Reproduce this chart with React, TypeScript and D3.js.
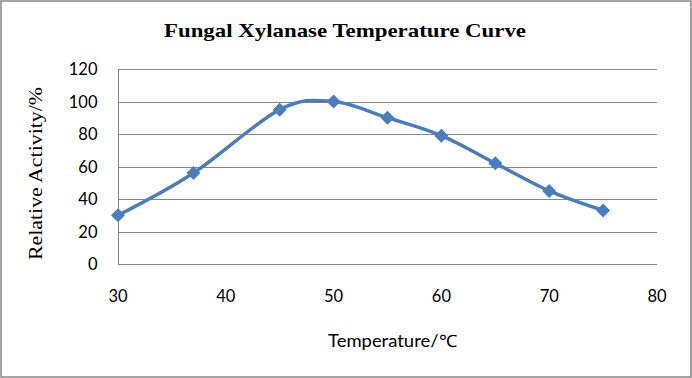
import React, { useEffect } from "react";
import * as d3 from "d3";

const temperatures = [30, 37, 45, 50, 55, 60, 65, 70, 75];
const activities = [30, 56, 95, 100, 90, 79, 62, 45, 33];
const xTicks = [30, 40, 50, 60, 70, 80];
const yTicks = [0, 20, 40, 60, 80, 100, 120];
const title = "Fungal Xylanase Temperature Curve";
const xTitle = "Temperature/℃";
const yTitle = "Relative Activity/%";

const W = 692, H = 378;
const L = 118, R = 657, T = 69, B = 264;
const BLUE = "#4a7ebb";
const GRID = "#868686";
const SANS = "Lato, 'Open Sans', sans-serif";
const SERIF = "'Liberation Serif', 'DejaVu Serif', serif";

export default function App() {
  useEffect(() => {
    document.body.style.margin = "0";
  }, []);
  const x = d3.scaleLinear().domain([30, 80]).range([L, R]);
  const y = d3.scaleLinear().domain([0, 120]).range([B, T]);
  const pts = temperatures.map((t, i) => [x(t), y(activities[i])] as [number, number]);
  const line = d3.line().curve(d3.curveCardinal.tension(0))(pts) || "";
  const d = 7;
  return (
    <svg width={W} height={H} style={{ position: "absolute", left: 0, top: 0, display: "block" }}>
      <rect x={0} y={0} width={W} height={H} fill="#fff" />
      <rect x={1} y={1} width={W - 2} height={H - 2} fill="none" stroke={GRID} strokeWidth={1.5} />
      <text x={164} y={37} textLength={362} lengthAdjust="spacingAndGlyphs" fontFamily={SERIF} fontWeight="bold" fontSize={19.5}>{title}</text>
      {yTicks.map((v) => (
        <g key={v}>
          <line x1={L} x2={R} y1={Math.round(y(v)) + 0.5} y2={Math.round(y(v)) + 0.5} stroke={GRID} strokeWidth={1} />
          <text x={97.5} y={y(v) + 6} textAnchor="end" fontFamily={SANS} fontSize={16.5} fill="#000">{v}</text>
        </g>
      ))}
      <line x1={L + 0.5} x2={L + 0.5} y1={T} y2={B + 1} stroke={GRID} strokeWidth={1} />
      {xTicks.map((v) => (
        <text key={v} x={x(v)} y={302} textAnchor="middle" fontFamily={SANS} fontSize={16.5} fill="#000">{v}</text>
      ))}
      <text x={328} y={347} textLength={129} lengthAdjust="spacingAndGlyphs" fontFamily={SANS} fontSize={17} fill="#000">{xTitle}</text>
      <text transform={`translate(42,260) rotate(-90)`} textLength={173} lengthAdjust="spacingAndGlyphs" fontFamily={SERIF} fontSize={18} fill="#000">{yTitle}</text>
      <path d={line} fill="none" stroke={BLUE} strokeWidth={3.5} strokeLinejoin="round" strokeLinecap="round" />
      {pts.map(([px, py], i) => (
        <path key={i} d={`M${px},${py - d}L${px + d},${py}L${px},${py + d}L${px - d},${py}Z`} fill={BLUE} />
      ))}
    </svg>
  );
}
